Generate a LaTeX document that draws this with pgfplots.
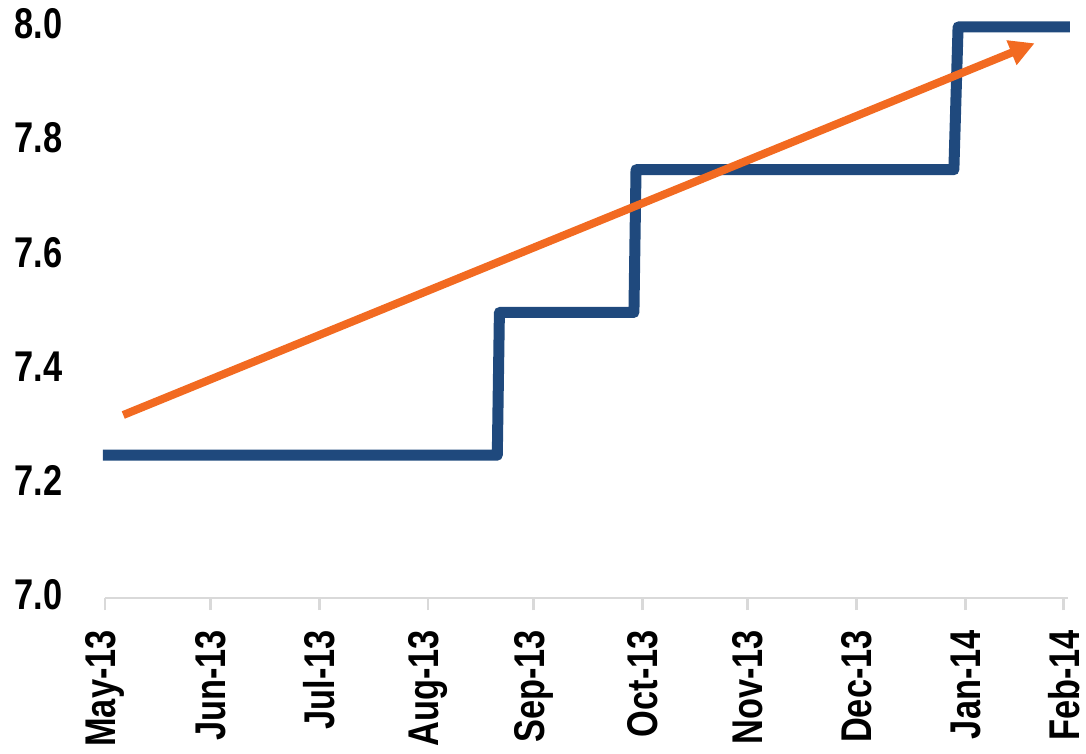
\documentclass[border=0pt]{standalone}
\usepackage{fontspec}
\setmainfont{Liberation Sans}[FakeStretch=0.8]
\usepackage{pgfplots}
\pgfplotsset{compat=1.18}
\usetikzlibrary{arrows.meta}

\definecolor{rateblue}{RGB}{31,73,125}
\definecolor{trendorange}{RGB}{242,106,33}
\definecolor{axisgrey}{RGB}{217,217,217}

\begin{document}
\begin{tikzpicture}
\begin{axis}[
  scale only axis,
  width=481.5pt, height=285.5pt,
  xmin=0, xmax=274.2,
  ymin=7, ymax=8,
  clip=false,
  axis y line=none,
  axis x line*=bottom,
  x axis line style={draw=axisgrey, line width=1.3pt, -},
  xtick={0,30,61,92,122,153,183,214,245,273},
  xticklabels={May-13,Jun-13,Jul-13,Aug-13,Sep-13,Oct-13,Nov-13,Dec-13,Jan-14,Feb-14},
  xtick style={draw=axisgrey, line width=1.3pt},
  tick align=outside,
  major tick length=6pt,
  xticklabel style={yshift=-6.5pt, rotate=90, anchor=east, font=\fontsize{21.5}{24}\selectfont\bfseries},
  ytick={7.0,7.2,7.4,7.6,7.8,8.0},
  yticklabels={},
]
  % policy rate, stepwise
  \addplot[rateblue, line width=5.5pt, line join=round, line cap=butt] coordinates {
    (-0.6,7.25) (111.7,7.25) (112.3,7.5) (150.6,7.5) (151.2,7.75)
    (241.7,7.75) (242.9,8.0) (274.7,8.0)
  };
  % upward trend arrow
  \addplot[trendorange, line width=4pt, -{Triangle[length=12.5pt,width=12.5pt]}] coordinates {
    (5.2,7.3205) (264.7,7.9715)
  };
  % y tick labels drawn to the left of the plot area
  \pgfplotsinvokeforeach{7.0,7.2,7.4,7.6,7.8,8.0}{
    \node[anchor=east, inner sep=0pt, font=\fontsize{21.5}{24}\selectfont\bfseries]
      at (axis cs:0,#1) [xshift=-21pt, yshift=1.5pt] {#1};
  }
\end{axis}
\pgfresetboundingbox
\path ([shift={(-52.5pt,-78pt)}]current axis.south west) rectangle ([shift={(9pt,13.5pt)}]current axis.north east);
\end{tikzpicture}
\end{document}
